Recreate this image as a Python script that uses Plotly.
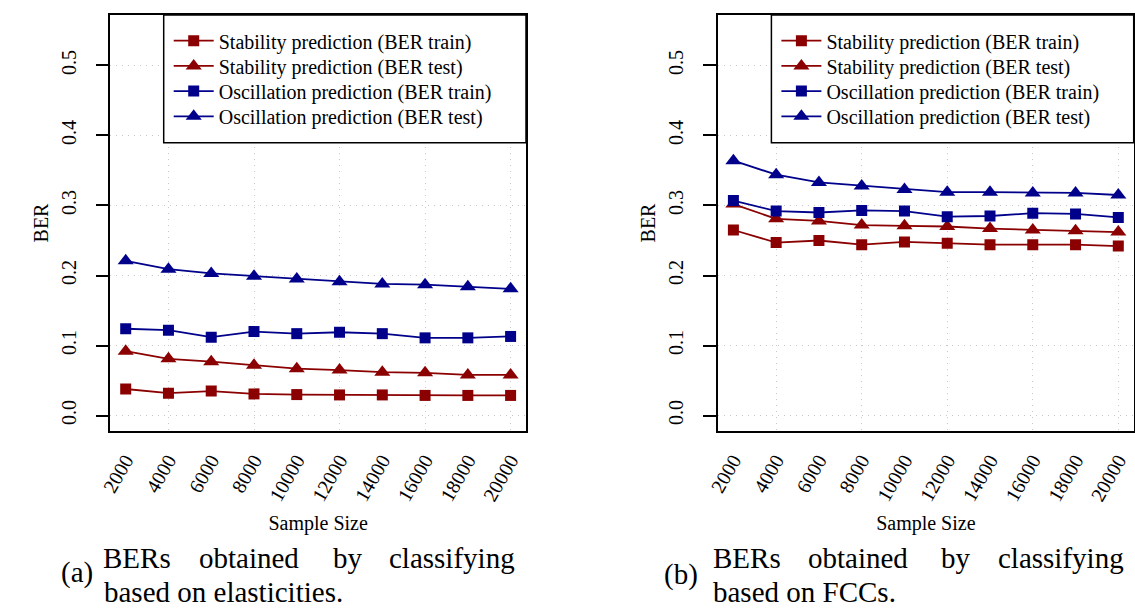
import plotly.graph_objects as go

W, H = 1135, 608

# ---- data ----
sample_labels = ["2000", "4000", "6000", "8000", "10000", "12000", "14000", "16000", "18000", "20000"]
idx = list(range(1, len(sample_labels) + 1))

series_names = [
    "Stability prediction (BER train)",
    "Stability prediction (BER test)",
    "Oscillation prediction (BER train)",
    "Oscillation prediction (BER test)",
]

elast_stab_train = [0.038, 0.032, 0.035, 0.031, 0.030, 0.0295, 0.0295, 0.0288, 0.0288, 0.0288]
elast_stab_test = [0.092, 0.081, 0.077, 0.072, 0.067, 0.065, 0.062, 0.061, 0.058, 0.058]
elast_osc_train = [0.124, 0.122, 0.112, 0.120, 0.117, 0.119, 0.117, 0.111, 0.111, 0.113]
elast_osc_test = [0.221, 0.209, 0.203, 0.199, 0.195, 0.191, 0.188, 0.187, 0.184, 0.181]

fcc_stab_train = [0.265, 0.247, 0.250, 0.244, 0.248, 0.246, 0.244, 0.244, 0.244, 0.242]
fcc_stab_test = [0.302, 0.281, 0.278, 0.272, 0.271, 0.270, 0.267, 0.265, 0.264, 0.262]
fcc_osc_train = [0.307, 0.292, 0.290, 0.293, 0.292, 0.284, 0.285, 0.289, 0.288, 0.283]
fcc_osc_test = [0.364, 0.344, 0.333, 0.328, 0.323, 0.319, 0.319, 0.318, 0.318, 0.315]

colors = ["#8b0000", "#8b0000", "#00008b", "#00008b"]
symbols = ["square", "triangle-up", "square", "triangle-up"]
sizes = [11, 14, 11, 14]

FONT = "Liberation Serif"
FS = 20

def px(x):
    return x / W

def py(y):
    return 1 - y / H

top, bottom = 15, 431
L1, R1 = 110.3, 526
L2, R2 = 718, 1133.7
d1 = [px(L1), px(R1)]
d2 = [px(L2), px(R2)]
ydom = [py(bottom), py(top)]

# legend frame and row centres (pixels)
leg_top, leg_bottom = top, 142.7
leg_w = 362.3
row_y = [40.7, 65.9, 91.1, 116.3]

fig = go.Figure()
legend_layouts = {}
panels = [
    ([elast_stab_train, elast_stab_test, elast_osc_train, elast_osc_test], "x", "y", R1, 0),
    ([fcc_stab_train, fcc_stab_test, fcc_osc_train, fcc_osc_test], "x2", "y2", R2, 4),
]
for series, xa, ya, right, off in panels:
    for k, (name, vals, c, s, sz) in enumerate(zip(series_names, series, colors, symbols, sizes)):
        n = off + k + 1
        lname = "legend" if n == 1 else f"legend{n}"
        fig.add_trace(go.Scatter(
            x=idx, y=vals, name=name, mode="lines+markers",
            line=dict(color=c, width=1.8),
            marker=dict(symbol=s, size=sz, color=c, line=dict(width=0)),
            xaxis=xa, yaxis=ya, legend=lname, showlegend=True,
        ))
        legend_layouts[lname] = dict(
            x=px(right - leg_w + 5), xanchor="left", y=py(row_y[k]), yanchor="middle",
            bgcolor="rgba(0,0,0,0)", borderwidth=0, itemwidth=40,
            font=dict(family=FONT, size=FS, color="black"),
        )

xr = [idx[0] - 0.04 * (idx[-1] - idx[0]), idx[-1] + 0.04 * (idx[-1] - idx[0])]
yr = [-0.022, 0.572]

GRID = "#c8c8c8"
GDASH = "1px,5px"

def xaxis(domain, anchor):
    return dict(
        domain=domain, anchor=anchor, range=xr, automargin=False,
        tickmode="array", tickvals=idx, ticktext=sample_labels,
        tickangle=-60, ticks="", ticklabelstandoff=8, showgrid=False, zeroline=False,
        showline=True, linecolor="black", linewidth=1.5, mirror=True,
        tickfont=dict(family=FONT, size=FS, color="black"),
        title=dict(text="Sample Size", font=dict(family=FONT, size=FS, color="black"), standoff=12),
        minor=dict(tickvals=idx[1::2], showgrid=True, gridcolor=GRID, griddash=GDASH, gridwidth=1.3, ticks=""),
    )

def yaxis(anchor):
    return dict(
        domain=ydom, anchor=anchor, range=yr, tick0=0, dtick=0.1, tickformat=".1f", automargin=False,
        ticks="outside", ticklen=13, tickwidth=1.5, tickcolor="black", ticklabelstandoff=12,
        tickangle=-90, showgrid=True, gridcolor=GRID, griddash=GDASH, gridwidth=1.3,
        zeroline=False, showline=True, linecolor="black", linewidth=1.5, mirror=True,
        tickfont=dict(family=FONT, size=FS, color="black"),
        title=dict(text="BER", font=dict(family=FONT, size=FS, color="black"), standoff=4),
    )

shapes = []
for right in (R1, R2):
    shapes.append(dict(type="rect", xref="paper", yref="paper",
                       x0=px(right - leg_w), x1=px(right), y0=py(leg_bottom), y1=py(leg_top),
                       fillcolor="white", line=dict(color="black", width=1.5), layer="above"))

CF = 29
annotations = []
cap_rows = [
    ("(a)", 59, 572, [("BERs", 100.5), ("obtained", 197), ("by", 331), ("classifying", 387)],
     "based on elasticities.", 101.5),
    ("(b)", 661.5, 574, [("BERs", 710.5), ("obtained", 805.5), ("by", 939), ("classifying", 995.5)],
     "based on FCCs.", 710.5),
]
for lab, lx, ly, words, line2, l2x in cap_rows:
    annotations.append(dict(text=lab, x=px(lx), y=py(ly), xref="paper", yref="paper",
                            xanchor="left", yanchor="middle", showarrow=False,
                            font=dict(family=FONT, size=CF, color="black")))
    for w, wx in words:
        annotations.append(dict(text=w, x=px(wx), y=py(558), xref="paper", yref="paper",
                                xanchor="left", yanchor="middle", showarrow=False,
                                font=dict(family=FONT, size=CF, color="black")))
    annotations.append(dict(text=line2, x=px(l2x), y=py(592), xref="paper", yref="paper",
                            xanchor="left", yanchor="middle", showarrow=False,
                            font=dict(family=FONT, size=CF, color="black")))

fig.update_layout(
    width=W, height=H, margin=dict(l=0, r=0, t=0, b=0, autoexpand=False),
    paper_bgcolor="white", plot_bgcolor="white",
    xaxis=xaxis(d1, "y"), yaxis=yaxis("x"),
    xaxis2=xaxis(d2, "y2"), yaxis2=yaxis("x2"),
    shapes=shapes,
    annotations=annotations,
    font=dict(family=FONT, size=FS, color="black"),
    **legend_layouts,
)

fig.write_html("out.html")
